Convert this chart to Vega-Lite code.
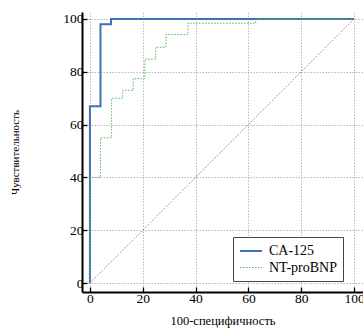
{
  "$schema": "https://vega.github.io/schema/vega-lite/v6.json",
  "width": 281,
  "height": 280,
  "autosize": "none",
  "padding": {"left": 82, "top": 12, "right": 0, "bottom": 37},
  "background": "white",
  "config": {
    "view": {"stroke": null},
    "axis": {
      "domainColor": "black",
      "domainWidth": 2,
      "tickColor": "black",
      "tickWidth": 1.3,
      "labelFont": "Liberation Serif",
      "labelFontSize": 13.5,
      "labelColor": "black",
      "titleFont": "Liberation Serif",
      "titleFontWeight": "normal",
      "titleColor": "black",
      "gridColor": "#999",
      "gridDash": [1.5, 1.5],
      "gridWidth": 0.7
    },
    "legend": {
      "labelFont": "Liberation Serif",
      "labelFontSize": 14,
      "labelColor": "black"
    }
  },
  "datasets": {
    "roc": [
      {"series": "CA-125", "i": 1, "fpr": 0, "tpr": 0},
      {"series": "CA-125", "i": 2, "fpr": 0, "tpr": 67},
      {"series": "CA-125", "i": 3, "fpr": 4, "tpr": 67},
      {"series": "CA-125", "i": 4, "fpr": 4, "tpr": 98},
      {"series": "CA-125", "i": 5, "fpr": 8, "tpr": 98},
      {"series": "CA-125", "i": 6, "fpr": 8, "tpr": 100},
      {"series": "CA-125", "i": 7, "fpr": 100, "tpr": 100},
      {"series": "NT-proBNP", "i": 1, "fpr": 0, "tpr": 0},
      {"series": "NT-proBNP", "i": 2, "fpr": 0, "tpr": 40},
      {"series": "NT-proBNP", "i": 3, "fpr": 4, "tpr": 40},
      {"series": "NT-proBNP", "i": 4, "fpr": 4, "tpr": 55},
      {"series": "NT-proBNP", "i": 5, "fpr": 8.2, "tpr": 55},
      {"series": "NT-proBNP", "i": 6, "fpr": 8.2, "tpr": 70},
      {"series": "NT-proBNP", "i": 7, "fpr": 12.4, "tpr": 70},
      {"series": "NT-proBNP", "i": 8, "fpr": 12.4, "tpr": 73},
      {"series": "NT-proBNP", "i": 9, "fpr": 16.4, "tpr": 73},
      {"series": "NT-proBNP", "i": 10, "fpr": 16.4, "tpr": 77.4},
      {"series": "NT-proBNP", "i": 11, "fpr": 20.8, "tpr": 77.4},
      {"series": "NT-proBNP", "i": 12, "fpr": 20.8, "tpr": 84.8},
      {"series": "NT-proBNP", "i": 13, "fpr": 24.9, "tpr": 84.8},
      {"series": "NT-proBNP", "i": 14, "fpr": 24.9, "tpr": 89.3},
      {"series": "NT-proBNP", "i": 15, "fpr": 28.8, "tpr": 89.3},
      {"series": "NT-proBNP", "i": 16, "fpr": 28.8, "tpr": 94.1},
      {"series": "NT-proBNP", "i": 17, "fpr": 37.1, "tpr": 94.1},
      {"series": "NT-proBNP", "i": 18, "fpr": 37.1, "tpr": 98.4},
      {"series": "NT-proBNP", "i": 19, "fpr": 62.8, "tpr": 98.4},
      {"series": "NT-proBNP", "i": 20, "fpr": 62.8, "tpr": 100},
      {"series": "NT-proBNP", "i": 21, "fpr": 100, "tpr": 100}
    ],
    "diag": [
      {"fpr": 0, "tpr": 0},
      {"fpr": 100, "tpr": 100}
    ]
  },
  "layer": [
    {
      "data": {"name": "diag"},
      "mark": {"type": "line", "color": "#cc3344", "strokeDash": [1, 1.5], "strokeWidth": 0.9},
      "encoding": {
        "x": {
          "field": "fpr", "type": "quantitative",
          "scale": {"domain": [-3, 103.4], "nice": false, "zero": false},
          "axis": {
            "title": "100-специфичность",
            "titleFontSize": 12.5,
            "titlePadding": 10,
            "values": [0,5,10,15,20,25,30,35,40,45,50,55,60,65,70,75,80,85,90,95,100],
            "labelExpr": "datum.value % 20 === 0 ? datum.label : ''",
            "tickSize": {"condition": {"test": "datum.value % 20 === 0", "value": -5}, "value": -3.5},
            "gridOpacity": {"condition": {"test": "datum.value % 20 === 0", "value": 1}, "value": 0},
            "labelPadding": 4
          }
        },
        "y": {
          "field": "tpr", "type": "quantitative",
          "scale": {"domain": [-3.4, 102.65], "nice": false, "zero": false},
          "axis": {
            "title": "Чувствительность",
            "titleFontSize": 11,
            "titlePadding": 42,
            "values": [0,5,10,15,20,25,30,35,40,45,50,55,60,65,70,75,80,85,90,95,100],
            "labelExpr": "datum.value % 20 === 0 ? datum.label : ''",
            "tickSize": {"condition": {"test": "datum.value % 20 === 0", "value": -5}, "value": -3.5},
            "gridOpacity": {"condition": {"test": "datum.value % 20 === 0", "value": 1}, "value": 0},
            "labelPadding": 4
          }
        }
      }
    },
    {
      "data": {"name": "roc"},
      "mark": {"type": "line"},
      "encoding": {
        "x": {"field": "fpr", "type": "quantitative"},
        "y": {"field": "tpr", "type": "quantitative"},
        "order": {"field": "i", "type": "quantitative"},
        "color": {
          "field": "series", "type": "nominal",
          "scale": {"domain": ["CA-125", "NT-proBNP"], "range": ["#3f6fb5", "#52b852"]},
          "legend": {
            "title": null,
            "orient": "none",
            "legendX": 151,
            "legendY": 225,
            "symbolType": "M-1,0H2.14",
            "symbolSize": 196,
            "symbolStrokeWidth": 1.6,
            "labelOffset": 14,
            "rowPadding": 2,
            "padding": 6,
            "strokeColor": "#444",
            "fillColor": "white"
          }
        },
        "strokeDash": {
          "field": "series", "type": "nominal",
          "scale": {"domain": ["CA-125", "NT-proBNP"], "range": [[1, 0], [1.5, 1.5]]},
          "legend": null
        },
        "strokeWidth": {
          "field": "series", "type": "nominal",
          "scale": {"domain": ["CA-125", "NT-proBNP"], "range": [2, 1]},
          "legend": null
        }
      }
    }
  ]
}
